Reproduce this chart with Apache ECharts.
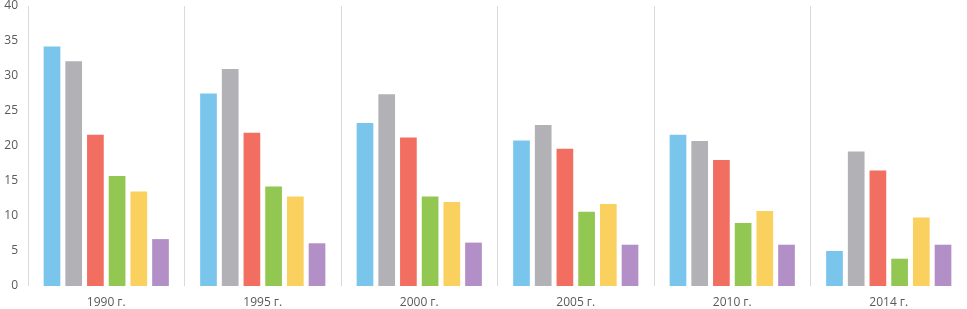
<!DOCTYPE html>
<html>
<head>
<meta charset="utf-8">
<script src="https://cdn.jsdelivr.net/npm/echarts@6/dist/echarts.min.js"></script>
<style>
html,body{margin:0;padding:0;background:#fff;}
#chart{width:967px;height:309px;}
</style>
</head>
<body>
<div id="chart"></div>
<script>
const categories = ['1990 г.', '1995 г.', '2000 г.', '2005 г.', '2010 г.', '2014 г.'];
const seriesBlue   = [34.2, 27.5, 23.3, 20.8, 21.6, 5.0];
const seriesGray   = [32.1, 31.0, 27.4, 23.0, 20.7, 19.2];
const seriesRed    = [21.6, 21.9, 21.2, 19.6, 18.0, 16.5];
const seriesGreen  = [15.7, 14.2, 12.8, 10.6, 9.0, 3.9];
const seriesYellow = [13.5, 12.8, 12.0, 11.7, 10.7, 9.8];
const seriesPurple = [6.7, 6.1, 6.2, 5.9, 5.9, 5.9];
const yTicks = [0, 5, 10, 15, 20, 25, 30, 35, 40];

const colors = ['#7ac5ec', '#b2b2b6', '#f26e60', '#92c852', '#fad05e', '#b38fc7'];
const allSeries = [seriesBlue, seriesGray, seriesRed, seriesGreen, seriesYellow, seriesPurple];

const chart = echarts.init(document.getElementById('chart'), null, {renderer: 'canvas'});
chart.setOption({
  animation: false,
  color: colors,
  grid: {left: 28, right: 0, top: 5, bottom: 23, containLabel: false},
  xAxis: {
    type: 'category',
    data: categories,
    axisLine: {show: false},
    axisTick: {show: false},
    splitLine: {show: true, lineStyle: {color: '#d9d9d9', width: 1}},
    axisLabel: {color: '#595959', fontSize: 12, fontFamily: 'Open Sans', margin: 11}
  },
  yAxis: {
    type: 'value',
    min: yTicks[0],
    max: yTicks[yTicks.length - 1],
    interval: 5,
    axisLine: {show: false},
    axisTick: {show: false},
    splitLine: {show: false},
    axisLabel: {color: '#595959', fontSize: 12, fontFamily: 'Open Sans', margin: 10}
  },
  series: allSeries.map((d, i) => ({
    type: 'bar',
    data: d,
    barGap: '30%',
    barCategoryGap: '20%',
    itemStyle: {color: colors[i]}
  }))
});
</script>
</body>
</html>
